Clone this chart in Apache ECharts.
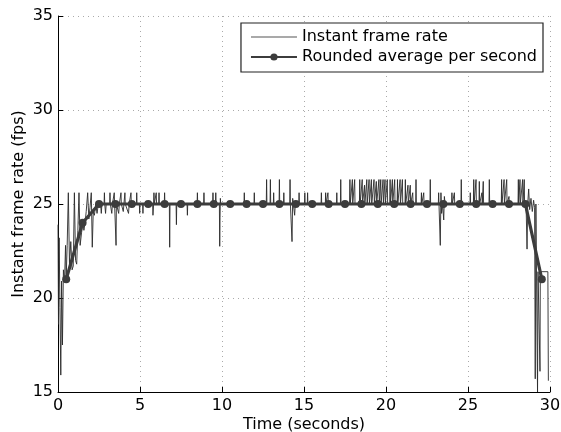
<!DOCTYPE html>
<html><head><meta charset="utf-8">
<script src="https://cdn.jsdelivr.net/npm/echarts@6/dist/echarts.min.js"></script>
<style>html,body{margin:0;padding:0;background:#fff}#c{width:561px;height:432px}</style>
</head><body><div id="c"></div>
<script>
// Instant frame rate samples: [time (s), fps]
const instantData = [
[0.00,23.9],[0.03,18.6],[0.07,23.2],[0.12,19.5],[0.17,15.9],[0.22,20.9],[0.27,17.5],[0.33,21.5],[0.40,20.9],[0.46,22.8],[0.50,21.1],[0.56,22.8],[0.63,25.6],[0.70,21.8],[0.78,23.0],[0.86,21.5],[0.93,21.7],[1.00,25.6],[1.07,22.0],[1.14,21.8],[1.21,23.6],[1.28,25.6],[1.35,22.8],[1.44,23.5],[1.52,24.0],[1.58,23.6],[1.65,24.0],[1.72,24.6],[1.81,25.6],[1.88,24.2],[1.95,24.8],[2.03,25.6],[2.09,22.7],[2.15,24.6],[2.22,24.4],[2.30,25.0],[2.38,24.5],[2.46,25.0],
[2.60,25.0],[2.64,24.5],[2.68,25.0],[2.81,25.0],[2.83,25.6],[2.85,25.0],[2.90,24.5],[2.94,25.0],[3.15,25.0],[3.17,25.6],[3.19,25.0],[3.28,24.5],[3.32,25.0],[3.41,25.0],[3.43,25.6],[3.45,25.0],[3.52,25.0],[3.54,22.8],[3.56,25.0],[3.70,24.5],[3.74,25.0],[3.82,25.0],[3.84,25.6],[3.86,25.0],[3.98,24.6],[4.02,25.0],[4.06,25.0],[4.08,25.6],[4.10,25.0],[4.30,24.5],[4.34,25.0],[4.43,25.0],[4.45,25.6],[4.47,25.0],[4.78,25.0],[4.80,25.6],[4.82,25.0],
[4.96,25.0],[4.98,24.5],[5.00,25.0],[5.16,25.0],[5.18,24.5],[5.20,25.0],[5.77,25.0],[5.79,24.4],[5.83,25.0],[5.85,25.6],[5.87,25.0],[5.97,25.0],[5.99,25.6],[6.01,25.0],[6.14,25.0],[6.16,25.6],[6.18,25.0],[6.48,25.0],[6.50,25.6],[6.52,25.0],[6.79,25.0],[6.81,22.7],[6.83,25.0],[7.20,25.0],[7.22,23.9],[7.24,25.0],[7.87,25.0],[7.89,24.4],[7.91,25.0],[8.48,25.0],[8.50,25.6],[8.52,25.0],[8.88,25.0],[8.90,25.6],[8.92,25.0],[9.43,25.0],[9.45,25.6],[9.47,25.0],[9.60,25.0],[9.62,25.6],[9.64,25.0],[9.84,25.0],[9.86,22.75],[9.88,24.3],[9.90,25.3],[9.92,25.0],
[11.34,25.0],[11.36,25.6],[11.38,25.0],[11.95,25.0],[11.97,25.6],[11.99,25.0],[12.70,25.0],[12.72,26.3],[12.74,25.0],[12.93,25.0],[12.95,26.3],[12.97,25.0],[13.13,25.0],[13.15,25.6],[13.17,25.0],[13.48,25.0],[13.50,26.3],[13.52,25.0],[13.75,25.0],[13.77,25.6],[13.79,25.0],[14.13,25.0],[14.15,26.3],[14.17,25.0],[14.25,25.0],[14.27,23.0],[14.31,25.3],[14.43,24.4],[14.47,25.0],[14.68,25.0],[14.70,25.6],[14.72,25.0],[15.03,25.0],[15.05,25.6],[15.07,25.0],[15.20,25.0],[15.22,25.6],[15.24,25.0],
[16.04,25.0],[16.06,25.6],[16.08,25.0],[16.30,25.0],[16.32,25.6],[16.34,25.0],[16.44,25.0],[16.46,25.6],[16.48,25.0],[16.98,25.0],[17.00,25.6],[17.02,25.0],[17.22,25.0],[17.24,26.3],[17.26,25.0],[17.78,25.0],[17.80,26.3],[17.82,25.0],[17.93,25.0],[17.95,26.3],[17.97,25.0],[18.07,25.0],[18.09,26.3],[18.11,25.0],
[18.38,25],[18.40,26.3],[18.42,25],[18.53,25],[18.55,26.3],[18.57,25],[18.67,25],[18.69,26.0],[18.71,25],[18.81,25],[18.83,26.3],[18.85,25],[18.95,25],[18.97,26.3],[18.99,25],[19.09,25],[19.11,26.3],[19.13,25],[19.25,25],[19.27,26.3],[19.29,25],[19.39,25],[19.41,26.2],[19.43,25],[19.55,25],[19.57,26.3],[19.59,25],[19.66,25],[19.68,26.3],[19.70,25],[19.80,25],[19.82,26.3],[19.84,25],[19.92,25],[19.94,26.3],[19.96,25],[20.06,25],[20.08,26.3],[20.10,25],[20.23,25],[20.25,26.3],[20.27,25],[20.37,25],[20.39,26.3],[20.41,25],[20.51,25],[20.53,26.3],[20.55,25],[20.68,25],[20.70,26.3],[20.72,25],[20.84,25],[20.86,26.3],[20.88,25],[20.98,25],[21.00,26.3],[21.02,25],
[21.16,25],[21.18,26.3],[21.20,25],[21.32,25],[21.34,26.0],[21.36,25],[21.46,25],[21.48,26.0],[21.50,25],[21.61,25],[21.63,25.6],[21.65,25],[21.81,25],[21.83,26.3],[21.85,25],[22.14,25],[22.16,25.6],[22.18,25],[22.28,25],[22.30,25.6],[22.32,25],[22.68,25],[22.70,26.3],[22.72,25],[23.19,25],[23.21,25.6],[23.23,25],[23.29,25],[23.31,22.8],[23.35,25.6],[23.39,24.5],[23.45,25],[23.50,25],[23.52,24.15],[23.56,25.4],[23.60,25],
[24.00,25],[24.02,25.6],[24.04,25],[24.15,25],[24.17,25.6],[24.19,25],[24.57,25],[24.59,26.3],[24.61,25],[25.12,25],[25.14,25.6],[25.16,25],[25.33,25],[25.35,26.3],[25.37,25],[25.47,25],[25.49,26.3],[25.51,25],[25.67,25],[25.69,26.2],[25.71,25],[25.83,25],[25.85,25.6],[25.87,25],[25.91,25],[25.93,26.2],[25.95,25],[26.28,25],[26.30,26.3],[26.32,25],[27.03,25],[27.05,26.3],[27.07,25],[27.18,25],[27.20,26.3],[27.22,25],[27.34,25],[27.36,26.3],[27.38,25],[27.48,25],[27.50,25.4],[27.52,25],
[28.05,25],[28.07,26.3],[28.09,25],[28.15,25],[28.17,26.3],[28.19,25],[28.31,25],[28.33,26.3],[28.35,25],[28.41,25],[28.43,26.3],[28.45,25],[28.55,24.6],[28.60,22.6],[28.64,25.0],[28.70,25.8],[28.76,24.7],[28.84,25.3],[28.92,24.6],[29.00,25.2],[29.06,24.8],[29.10,15.7],[29.14,25.0],[29.20,25.0],[29.24,15.0],[29.27,21.4],[29.37,21.4],[29.39,16.1],[29.41,21.4],[29.87,21.4],[29.90,15.6]
];
// Rounded average per second
const avgTime = [0.5,1.5,2.5,3.5,4.5,5.5,6.5,7.5,8.5,9.5,10.5,11.5,12.5,13.5,14.5,15.5,16.5,17.5,18.5,19.5,20.5,21.5,22.5,23.5,24.5,25.5,26.5,27.5,28.5,29.5];
const avgFps  = [21,24,25,25,25,25,25,25,25,25,25,25,25,25,25,25,25,25,25,25,25,25,25,25,25,25,25,25,25,21];
const xTicks = [0,5,10,15,20,25,30];
const yTicks = [15,20,25,30,35];

const FONT = 'DejaVu Sans';
const chart = echarts.init(document.getElementById('c'), null, {renderer:'canvas'});
const axisCommon = {
  axisLine:{show:true,onZero:false,lineStyle:{color:'#000',width:1}},
  axisTick:{show:true,inside:true,length:5,lineStyle:{color:'#000'}},
  splitLine:{show:true,lineStyle:{color:'#aaa',type:[1,4],width:1}},
  nameTextStyle:{color:'#000',fontSize:16,fontFamily:FONT},
  nameMoveOverlap:false
};
chart.setOption({
  animation:false,
  backgroundColor:'#fff',
  grid:{left:58,right:11,top:16,bottom:40,containLabel:false,outerBoundsMode:'none'},
  legend:{
    orient:'vertical', right:18, top:23,
    backgroundColor:'#fff',
    borderColor:'#222', borderWidth:1.2, borderRadius:0,
    padding:[6,6,7,9], itemGap:4, itemWidth:46, itemHeight:9,
    textStyle:{color:'#000',fontSize:16,fontFamily:FONT},
    data:[
      {name:'Instant frame rate', icon:'path://M0,0 L46,0 L46,1 L0,1 Z'},
      {name:'Rounded average per second'}
    ]
  },
  xAxis:Object.assign({type:'value',min:xTicks[0],max:xTicks[xTicks.length-1],interval:5,
    name:'Time (seconds)',nameLocation:'middle',nameGap:25},axisCommon,
    {axisLabel:{color:'#000',fontSize:16,fontFamily:FONT,margin:6}}),
  yAxis:Object.assign({type:'value',min:yTicks[0],max:yTicks[yTicks.length-1],interval:5,
    name:'Instant frame rate (fps)',nameLocation:'middle',nameGap:31},axisCommon,
    {axisLabel:{color:'#000',fontSize:16,fontFamily:FONT,margin:5}}),
  series:[
    {name:'Instant frame rate',type:'line',data:instantData,symbol:'none',clip:true,
     lineStyle:{color:'#2a2a2a',width:0.9},itemStyle:{color:'#555'},z:2},
    {name:'Rounded average per second',type:'line',data:avgTime.map((t,i)=>[t,avgFps[i]]),
     symbol:'circle',symbolSize:8,showSymbol:true,clip:true,
     lineStyle:{color:'#3c3c3c',width:3.2},itemStyle:{color:'#3c3c3c'},z:3}
  ]
});
</script></body></html>
